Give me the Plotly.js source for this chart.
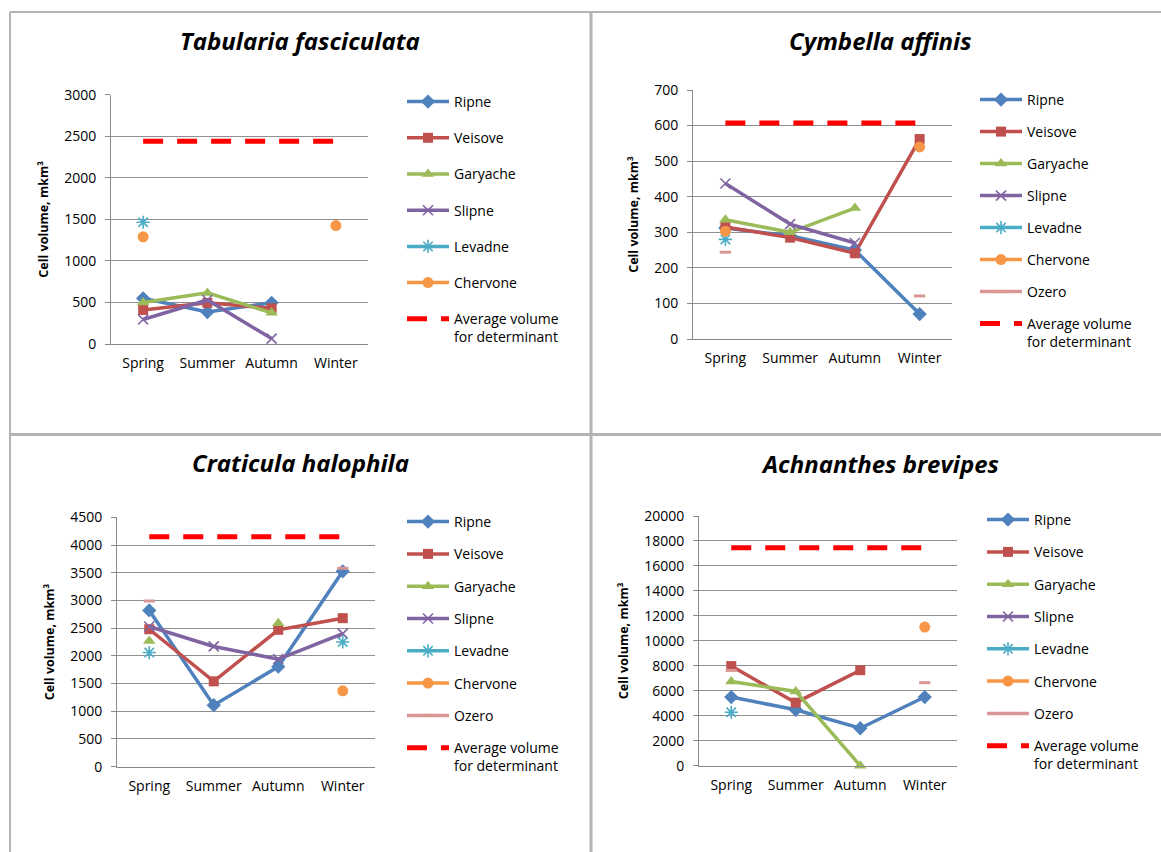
<!DOCTYPE html>
<html><head><meta charset="utf-8">
<script src="https://cdn.plot.ly/plotly-3.0.1.min.js"></script>
<style>html,body{margin:0;padding:0;background:#fff}#chart{width:1161px;height:852px}</style>
</head><body><div id="chart"></div>
<script>
// ---- data ----
const seasons = ['Spring', 'Summer', 'Autumn', 'Winter'];
const seriesNames = ['Ripne', 'Veisove', 'Garyache', 'Slipne', 'Levadne', 'Chervone', 'Ozero'];
const avgName = 'Average volume<br>for determinant';

// Tabularia fasciculata
const tabRipne    = [550, 385, 495, null];
const tabVeisove  = [410, 495, 430, null];
const tabGaryache = [500, 615, 375, null];
const tabSlipne   = [295, 530, 65, null];
const tabLevadne  = [1465, null, null, null];
const tabChervone = [1290, null, null, 1425];
const tabAvg      = [2440, 2440, 2440, 2440];

// Cymbella affinis
const cymRipne    = [312, 290, 250, 70];
const cymVeisove  = [315, 285, 241, 562];
const cymGaryache = [335, 300, 368, null];
const cymSlipne   = [437, 323, 270, null];
const cymLevadne  = [280, null, null, null];
const cymChervone = [303, null, null, 540];
const cymOzero    = [244, null, null, 121];
const cymAvg      = [607, 607, 607, 607];

// Craticula halophila
const craRipne    = [2820, 1110, 1805, 3525];
const craVeisove  = [2480, 1540, 2470, 2680];
const craGaryache = [2270, null, 2590, null];
const craSlipne   = [2530, 2170, 1940, 2400];
const craLevadne  = [2060, null, null, 2250];
const craChervone = [null, null, null, 1370];
const craOzero    = [2990, null, null, 3580];
const craAvg      = [4150, 4150, 4150, 4150];

// Achnanthes brevipes
const achRipne    = [5500, 4480, 3000, 5500];
const achVeisove  = [7980, 5050, 7650, null];
const achGaryache = [6750, 5950, 0, null];
const achSlipne   = [null, null, null, null];
const achLevadne  = [4280, null, null, null];
const achChervone = [null, null, null, 11100];
const achOzero    = [7630, null, null, 6650];
const achAvg      = [17460, 17460, 17460, 17460];

// ---- styles ----
const styles = {
  Ripne:    {color: '#4F81BD', symbol: 'diamond', size: 11, lw: 0},
  Veisove:  {color: '#C0504D', symbol: 'square', size: 10, lw: 0},
  Garyache: {color: '#9BBB59', symbol: 'triangle-up', size: 11, lw: 0},
  Slipne:   {color: '#8064A2', symbol: 'x-thin-open', size: 10, lw: 1.6},
  Levadne:  {color: '#4BACC6', symbol: 'asterisk-open', size: 11, lw: 1.6},
  Chervone: {color: '#F79646', symbol: 'circle', size: 11, lw: 0},
  Ozero:    {color: '#D99694', symbol: 'line-ew-open', size: 8, lw: 3}
};

const W = 1161, H = 852;
const fx = x => x / W;
const fy = y => 1 - y / H;

const panels = [
  {title: 'Tabularia fasciculata', data: [tabRipne, tabVeisove, tabGaryache, tabSlipne, tabLevadne, tabChervone, null], avg: tabAvg,
   box: [111, 368, 94.7, 344], range: [0, 3000], dtick: 500, tcx: 300, tcy: 40, leg: [402, 86], gap: 15},
  {title: 'Cymbella affinis', data: [cymRipne, cymVeisove, cymGaryache, cymSlipne, cymLevadne, cymChervone, cymOzero], avg: cymAvg,
   box: [693, 952, 90, 339], range: [0, 700], dtick: 100, tcx: 880, tcy: 40, leg: [975, 84], gap: 10.8},
  {title: 'Craticula halophila', data: [craRipne, craVeisove, craGaryache, craSlipne, craLevadne, craChervone, craOzero], avg: craAvg,
   box: [117, 375, 517.3, 766.7], range: [0, 4500], dtick: 500, tcx: 300, tcy: 462, leg: [402, 506], gap: 11.1},
  {title: 'Achnanthes brevipes', data: [achRipne, achVeisove, achGaryache, achSlipne, achLevadne, achChervone, achOzero], avg: achAvg,
   box: [699, 957, 516, 765.7], range: [0, 20000], dtick: 2000, tcx: 880, tcy: 463, leg: [982, 504], gap: 11.1}
];

const FONT = 'Open Sans, Noto Sans, sans-serif';
const traces = [];
const layout = {
  width: W, height: H, margin: {l: 0, r: 0, t: 0, b: 0},
  paper_bgcolor: '#fff', plot_bgcolor: 'rgba(0,0,0,0)',
  font: {family: FONT, size: 14, color: '#000'},
  annotations: [], shapes: [], showlegend: true
};

panels.forEach((p, i) => {
  const n = i === 0 ? '' : String(i + 1);
  const xa = 'x' + n, ya = 'y' + n, lg = 'legend' + n;
  p.data.forEach((vals, k) => {
    if (!vals) return;
    const name = seriesNames[k], s = styles[name];
    traces.push({
      type: 'scatter', mode: 'lines+markers', x: seasons, y: vals, name: name,
      xaxis: xa, yaxis: ya, legend: lg, legendgroup: 'g' + i + '_' + k,
      line: {color: s.color, width: 3.5},
      marker: {symbol: s.symbol, size: s.size, color: s.color, line: {color: s.color, width: s.lw}},
      cliponaxis: false
    });
  });
  traces.push({
    type: 'scatter', mode: 'lines', x: seasons, y: p.avg, name: avgName,
    xaxis: xa, yaxis: ya, legend: lg, legendgroup: 'g' + i + '_avg',
    line: {color: '#FF0000', width: 5, dash: '20px,14px'}
  });
  const [x0, x1, y0, y1] = p.box;
  layout['xaxis' + n] = {
    domain: [fx(x0), fx(x1)], anchor: ya, type: 'category', range: [-0.5, 3.5],
    showgrid: false, showline: true, linecolor: '#8a8a8a', linewidth: 1,
    ticks: '', ticklabelstandoff: 6, tickfont: {size: 14, color: '#000'}, fixedrange: true
  };
  layout['yaxis' + n] = {
    domain: [fy(y1), fy(y0)], anchor: xa, range: p.range, dtick: p.dtick, tickformat: 'd',
    showgrid: true, gridcolor: '#8f8f8f', gridwidth: 1, zeroline: false,
    showline: true, linecolor: '#8a8a8a', linewidth: 1,
    ticks: 'outside', ticklen: 5, tickcolor: '#8a8a8a', ticklabelstandoff: 6,
    tickfont: {size: 14, color: '#000'},
    title: {text: 'Cell volume, mkm³', font: {size: 12.5, weight: 'bold', color: '#000'}, standoff: 12},
    fixedrange: true
  };
  layout[lg] = {
    x: fx(p.leg[0]), y: fy(p.leg[1]), xanchor: 'left', yanchor: 'top',
    bgcolor: 'rgba(0,0,0,0)', borderwidth: 0, tracegroupgap: p.gap, valign: 'top',
    itemwidth: 42,
    font: {size: 14, color: '#000', family: FONT}
  };
  layout.annotations.push({
    text: p.title, xref: 'paper', yref: 'paper', x: fx(p.tcx), y: fy(p.tcy),
    xanchor: 'center', yanchor: 'middle', showarrow: false,
    font: {size: 24, weight: 'bold', style: 'italic', color: '#000', family: FONT}
  });
});

// panel frame lines
const frame = '#b4b4b4';
layout.shapes.push(
  {type: 'line', xref: 'paper', yref: 'paper', x0: fx(10), x1: 1, y0: fy(12), y1: fy(12), line: {color: frame, width: 2}},
  {type: 'line', xref: 'paper', yref: 'paper', x0: fx(10), x1: fx(10), y0: fy(12), y1: 0, line: {color: frame, width: 2}},
  {type: 'line', xref: 'paper', yref: 'paper', x0: fx(591), x1: fx(591), y0: fy(12), y1: 0, line: {color: frame, width: 3}},
  {type: 'line', xref: 'paper', yref: 'paper', x0: fx(10), x1: 1, y0: fy(434.5), y1: fy(434.5), line: {color: frame, width: 3}}
);

Plotly.newPlot('chart', traces, layout, {staticPlot: true, displayModeBar: false});
</script>
</body></html>
